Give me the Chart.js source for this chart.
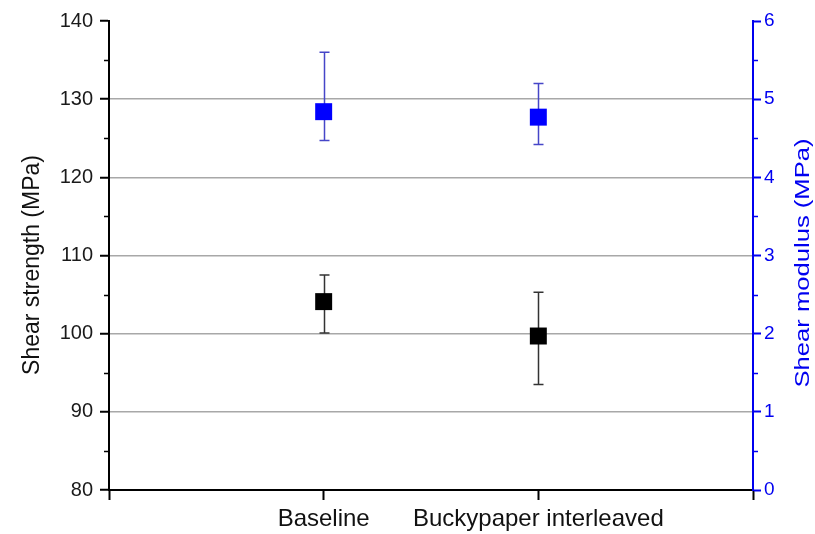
<!DOCTYPE html>
<html>
<head>
<meta charset="utf-8">
<script src="https://cdn.jsdelivr.net/npm/chart.js@4.4.1/dist/chart.umd.min.js"></script>
<style>
  body { margin: 0; background: #fff; }
  canvas { display: block; }
</style>
</head>
<body>
<canvas id="shearChart" width="815" height="534"></canvas>
<script>
// ---- data ----
const categories = ["Baseline", "Buckypaper interleaved"];
const catPos = [1, 2];
const xTicks = [0, 1, 2, 3];

const strengthMean = [104.1, 99.7];
const strengthLow  = [100.1, 93.5];
const strengthHigh = [107.5, 105.3];

const modulusMean = [4.84, 4.77];
const modulusLow  = [4.47, 4.42];
const modulusHigh = [5.60, 5.20];

const leftTicks  = [80, 90, 100, 110, 120, 130, 140];
const rightTicks = [0, 1, 2, 3, 4, 5, 6];

const FONT = '"Liberation Sans", Arial, sans-serif';
const BLUE = "#0000f0";

function points(ys) {
  return catPos.map((x, i) => ({ x: x, y: ys[i] }));
}

// error bars, drawn under the markers
const errorBars = {
  id: "errorBars",
  beforeDatasetsDraw(chart) {
    const ctx = chart.ctx;
    const xs = chart.scales.x;
    const sets = [
      { axis: chart.scales.y,  lo: strengthLow, hi: strengthHigh, color: "#333333" },
      { axis: chart.scales.y2, lo: modulusLow,  hi: modulusHigh,  color: "#4646c8" }
    ];
    ctx.save();
    ctx.lineWidth = 1.5;
    sets.forEach(s => {
      ctx.strokeStyle = s.color;
      for (let i = 0; i < catPos.length; i++) {
        let px = Math.round(xs.getPixelForValue(catPos[i])) + 0.5;
        let top = s.axis.getPixelForValue(s.hi[i]);
        let bot = s.axis.getPixelForValue(s.lo[i]);
        ctx.beginPath();
        ctx.moveTo(px, top); ctx.lineTo(px, bot);
        ctx.moveTo(px - 5, top); ctx.lineTo(px + 5, top);
        ctx.moveTo(px - 5, bot); ctx.lineTo(px + 5, bot);
        ctx.stroke();
      }
    });
    ctx.restore();
  }
};

// minor ticks and the axis titles
const extras = {
  id: "extras",
  afterDraw(chart) {
    const ctx = chart.ctx;
    const ya = chart.scales.y, yb = chart.scales.y2;
    const area = chart.chartArea;
    ctx.save();
    ctx.lineWidth = 1.5;
    ctx.strokeStyle = "#000";
    for (let v = 85; v < 140; v += 10) {
      let py = Math.round(ya.getPixelForValue(v)) + 0.5;
      ctx.beginPath(); ctx.moveTo(area.left - 5, py); ctx.lineTo(area.left, py); ctx.stroke();
    }
    ctx.strokeStyle = BLUE;
    for (let v = 0.5; v < 6; v += 1) {
      let py = Math.round(yb.getPixelForValue(v)) + 0.5;
      ctx.beginPath(); ctx.moveTo(area.right, py); ctx.lineTo(area.right + 5, py); ctx.stroke();
    }

    // left title
    ctx.fillStyle = "#111";
    ctx.font = "23px " + FONT;
    ctx.textAlign = "center";
    ctx.textBaseline = "middle";
    ctx.save();
    ctx.translate(33, 265);
    ctx.rotate(-Math.PI / 2);
    ctx.fillText("Shear strength (MPa)", 0, 0);
    ctx.restore();

    // right title (stretched along its length like the original)
    ctx.fillStyle = BLUE;
    ctx.font = "20px " + FONT;
    ctx.save();
    ctx.translate(803, 263);
    ctx.rotate(-Math.PI / 2);
    ctx.scale(1.28, 1);
    ctx.fillText("Shear modulus (MPa)", 0, 0);
    ctx.restore();
    ctx.restore();
  }
};

const ctx = document.getElementById("shearChart");
new Chart(ctx, {
  type: "scatter",
  data: {
    datasets: [
      {
        label: "Shear strength",
        data: points(strengthMean),
        yAxisID: "y",
        pointStyle: "rect",
        pointRadius: 12,
        pointBackgroundColor: "#000",
        pointBorderWidth: 0,
        showLine: false
      },
      {
        label: "Shear modulus",
        data: points(modulusMean),
        yAxisID: "y2",
        pointStyle: "rect",
        pointRadius: 12,
        pointBackgroundColor: "#0000ff",
        pointBorderWidth: 0,
        showLine: false
      }
    ]
  },
  options: {
    responsive: false,
    animation: false,
    layout: { padding: { top: 21, left: 0, right: 0, bottom: 0 } },
    plugins: { legend: { display: false }, tooltip: { enabled: false } },
    scales: {
      x: {
        type: "linear",
        min: 0,
        max: 3,
        afterFit: s => { s.height = 44; },
        afterBuildTicks: s => { s.ticks = xTicks.map(v => ({ value: v })); },
        border: { color: "#000", width: 2 },
        grid: { drawOnChartArea: false, tickLength: 10, tickColor: "#000", tickWidth: 2 },
        ticks: {
          padding: 5,
          maxRotation: 0,
          minRotation: 0,
          autoSkip: false,
          color: "#111",
          font: { family: FONT, size: 24 },
          callback: v => { let i = catPos.indexOf(v); return i >= 0 ? categories[i] : ""; }
        }
      },
      y: {
        position: "left",
        min: 80,
        max: 140,
        afterFit: s => { s.width = 109; },
        afterBuildTicks: s => { s.ticks = leftTicks.map(v => ({ value: v })); },
        border: { color: "#000", width: 2 },
        grid: {
          color: c => (c.tick && c.tick.value > 80 && c.tick.value < 140) ? "#a8a8a8" : "rgba(0,0,0,0)",
          lineWidth: 1.5,
          tickLength: 9,
          tickColor: "#000",
          tickWidth: 2
        },
        ticks: { padding: 7, color: "#1a1a1a", font: { family: FONT, size: 20 } }
      },
      y2: {
        position: "right",
        min: 0,
        max: 6,
        afterFit: s => { s.width = 62; },
        afterBuildTicks: s => { s.ticks = rightTicks.map(v => ({ value: v })); },
        border: { color: BLUE, width: 2 },
        grid: { drawOnChartArea: false, tickLength: 8, tickColor: BLUE, tickWidth: 2 },
        ticks: { padding: 3, color: BLUE, font: { family: FONT, size: 19 } }
      }
    }
  },
  plugins: [errorBars, extras]
});
</script>
</body>
</html>
